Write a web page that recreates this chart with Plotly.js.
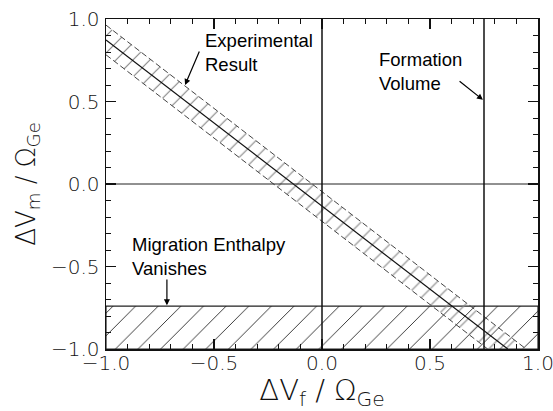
<!DOCTYPE html>
<html><head><meta charset="utf-8">
<script src="https://cdn.plot.ly/plotly-3.0.1.min.js"></script>
<style>html,body{margin:0;padding:0;background:#fff}#chart{width:553px;height:411px}</style>
</head><body><div id="chart"></div>
<script>
// Data
const centerX = [-1.0, 0.86];
const centerY = [0.873, -1.0];
const upperX = [-1.0, 0.945];
const upperY = [0.963, -1.0];
const lowerX = [-1.0, 0.767];
const lowerY = [0.783, -1.0];
const formationX = [0.75, 0.75];
const formationY = [-1.0, 1.0];
const zeroVX = [0.0, 0.0];
const zeroVY = [-1.0, 1.0];
const zeroHX = [-1.0, 1.0];
const zeroHY = [0.0, 0.0];
const migrationX = [-1.0, 1.0, 1.0, -1.0, -1.0];
const migrationY = [-0.74, -0.74, -1.0, -1.0, -0.74];
const tickVals = [-1.0, -0.5, 0.0, 0.5, 1.0];
const tickText = ['\u22121.0', '\u22120.5', '0.0', '0.5', '1.0'];

const bandX = upperX.concat(lowerX.slice().reverse());
const bandY = upperY.concat(lowerY.slice().reverse());

const traces = [
  {x: migrationX, y: migrationY, mode: 'lines', fill: 'toself', fillcolor: 'rgba(0,0,0,0)',
   fillpattern: {shape: '/', size: 16, solidity: 0.06, fgcolor: '#333', bgcolor: 'rgba(255,255,255,0)'},
   line: {color: '#222', width: 1.2}, hoverinfo: 'skip'},
  {x: bandX, y: bandY, mode: 'none', fill: 'toself', fillcolor: 'rgba(0,0,0,0)',
   fillpattern: {shape: '/', size: 12, solidity: 0.1, fgcolor: '#888', bgcolor: 'rgba(255,255,255,0)'},
   hoverinfo: 'skip'},
  {x: upperX, y: upperY, mode: 'lines', line: {color: '#444', width: 1, dash: '6px,3px'}},
  {x: lowerX, y: lowerY, mode: 'lines', line: {color: '#444', width: 1, dash: '6px,3px'}},
  {x: centerX, y: centerY, mode: 'lines', line: {color: '#111', width: 1.2}},
  {x: zeroHX, y: zeroHY, mode: 'lines', line: {color: '#222', width: 1}},
  {x: zeroVX, y: zeroVY, mode: 'lines', line: {color: '#111', width: 1.5}},
  {x: formationX, y: formationY, mode: 'lines', line: {color: '#111', width: 1.5}}
];

const tickFont = {family: 'DejaVu Sans', size: 20, color: '#111', weight: 200};
const axisBase = {
  range: [-1, 1], showline: true, mirror: 'ticks', linecolor: '#111', linewidth: 1.5,
  ticks: 'inside', ticklen: 10, tickwidth: 1.2, tickcolor: '#111',
  tickvals: tickVals, ticktext: tickText, tickfont: tickFont,
  ticklabeloverflow: 'allow',
  minor: {ticks: 'inside', ticklen: 5, tickwidth: 1, tickcolor: '#111', dtick: 0.1, tick0: 0, showgrid: false},
  showgrid: false, zeroline: false, fixedrange: true
};

const annFont = {family: 'Liberation Sans', size: 18.5, color: '#000'};
const layout = {
  width: 553, height: 411,
  margin: {l: 106, r: 15, t: 19, b: 62},
  paper_bgcolor: '#fff', plot_bgcolor: '#fff',
  showlegend: false,
  xaxis: Object.assign({}, axisBase, {
    ticklabelstandoff: -5,
    title: {text: '\u0394V<sub>f</sub> / \u03A9<sub>Ge</sub>', font: {family: 'DejaVu Sans', size: 29, color: '#111', weight: 200}, standoff: 2}
  }),
  yaxis: Object.assign({}, axisBase, {
    ticklabelstandoff: 1,
    title: {text: '\u0394V<sub>m</sub> / \u03A9<sub>Ge</sub>', font: {family: 'DejaVu Sans', size: 26, color: '#111', weight: 200}, standoff: 8}
  }),
  annotations: [
    {x: -0.551, y: 0.80, xref: 'x', yref: 'y', text: 'Experimental<br>Result', showarrow: false,
     xanchor: 'left', yanchor: 'middle', align: 'left', font: annFont},
    {x: 0.255, y: 0.68, xref: 'x', yref: 'y', text: 'Formation<br>Volume', showarrow: false,
     xanchor: 'left', yanchor: 'middle', align: 'left', font: annFont},
    {x: -0.889, y: -0.44, xref: 'x', yref: 'y', text: 'Migration Enthalpy<br>Vanishes', showarrow: false,
     xanchor: 'left', yanchor: 'middle', align: 'left', font: annFont},
    {x: -0.634, y: 0.60, ax: -0.565, ay: 0.812, xref: 'x', yref: 'y', axref: 'x', ayref: 'y',
     text: '', showarrow: true, arrowhead: 2, arrowsize: 1, arrowwidth: 1.2, arrowcolor: '#000'},
    {x: 0.745, y: 0.51, ax: 0.63, ay: 0.63, xref: 'x', yref: 'y', axref: 'x', ayref: 'y',
     text: '', showarrow: true, arrowhead: 2, arrowsize: 1, arrowwidth: 1.2, arrowcolor: '#000'},
    {x: -0.718, y: -0.735, ax: -0.718, ay: -0.57, xref: 'x', yref: 'y', axref: 'x', ayref: 'y',
     text: '', showarrow: true, arrowhead: 2, arrowsize: 1, arrowwidth: 1.2, arrowcolor: '#000'}
  ]
};

Plotly.newPlot('chart', traces, layout, {displayModeBar: false, staticPlot: true});
</script>
</body></html>
